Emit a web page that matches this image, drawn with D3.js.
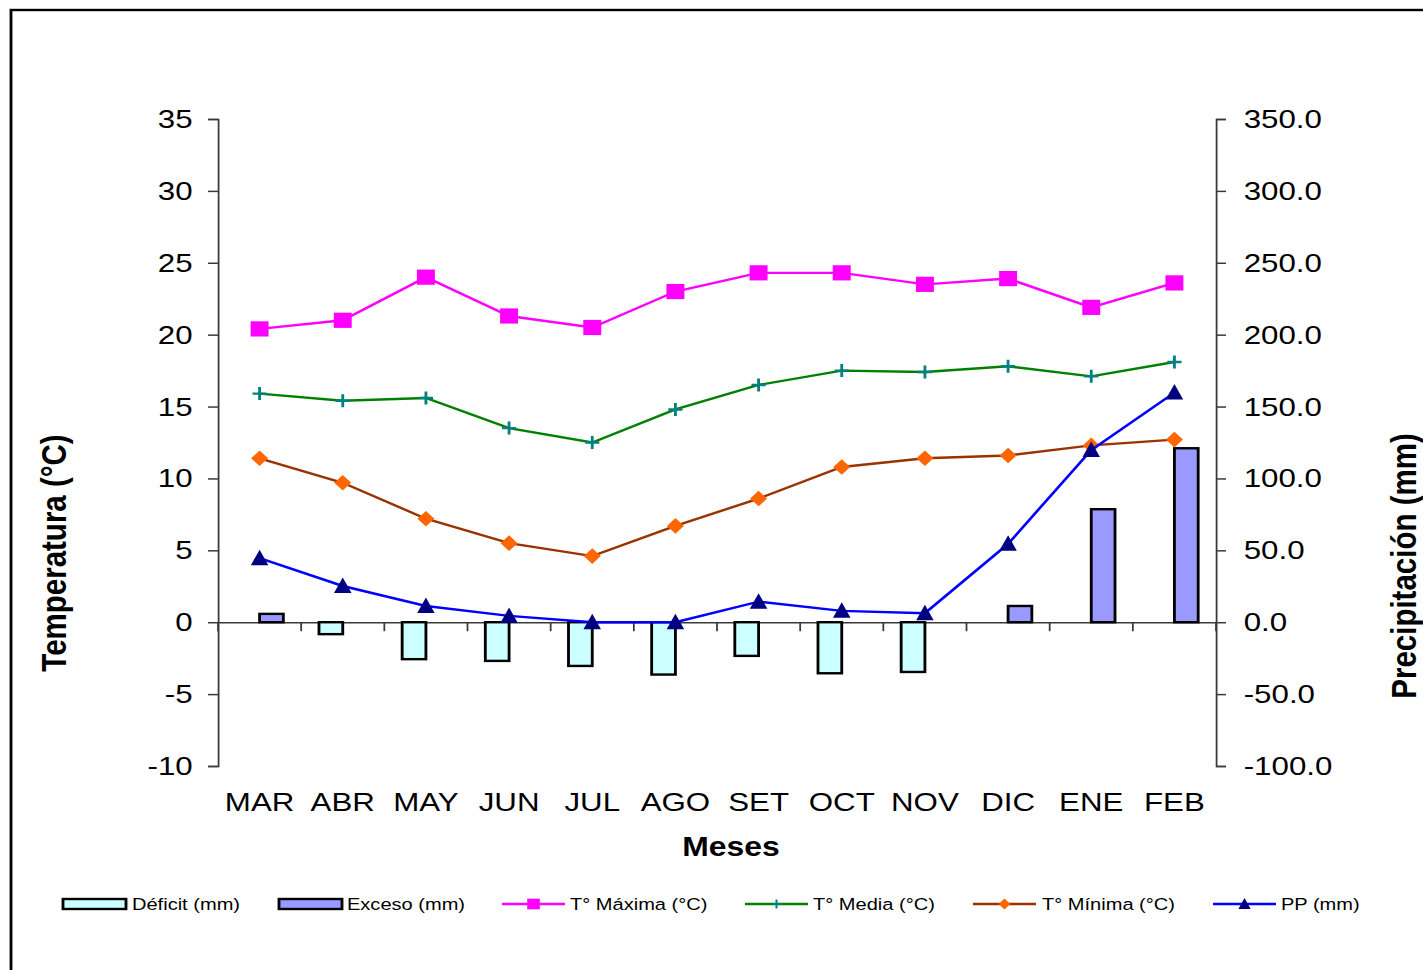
<!DOCTYPE html>
<html><head><meta charset="utf-8">
<script src="https://cdn.jsdelivr.net/npm/d3@7"></script>
<style>html,body{margin:0;padding:0;background:#fff;overflow:hidden}</style>
</head><body>
<script>
const months = ["MAR","ABR","MAY","JUN","JUL","AGO","SET","OCT","NOV","DIC","ENE","FEB"];
const tMax   = [20.4,21.0,24.0,21.3,20.5,23.0,24.3,24.3,23.5,23.9,21.9,23.6];
const tMedia = [15.9,15.4,15.6,13.5,12.5,14.8,16.5,17.5,17.4,17.8,17.1,18.1];
const tMin   = [11.4,9.7,7.2,5.5,4.6,6.7,8.6,10.8,11.4,11.6,12.3,12.7];
const pp     = [44.5,25.2,11.3,4.4,0,0,14.3,7.9,6.3,54.5,119.8,159.7];
const deficit= [0,-8.3,-25.7,-26.9,-30.4,-36.4,-23.4,-35.5,-34.6,0,0,0];
const exceso = [5.8,0,0,0,0,0,0,0,0,11.3,78.6,121.0];
const leftTicks  = [-10,-5,0,5,10,15,20,25,30,35];
const rightTicks = [-100,-50,0,50,100,150,200,250,300,350];

const SX = 1.18;               // horizontal stretch of the original picture
const W = 1423, H = 970, IW = W / SX;
const font = "'Liberation Sans', Arial, sans-serif";

const svg = d3.select("body").append("svg")
  .attr("width", W).attr("height", H)
  .attr("viewBox", `0 0 ${IW} ${H}`)
  .attr("preserveAspectRatio", "none")
  .style("font-family", font);

svg.append("rect").attr("x", 0).attr("y", 0).attr("width", IW).attr("height", H).attr("fill", "#fff");
svg.append("rect").attr("x", 11/SX).attr("y", 10).attr("width", IW + 50).attr("height", H + 50)
  .attr("fill", "none").attr("stroke", "#000").attr("stroke-width", 2.4);

const x0 = 218/SX, x1 = 1216/SX, yTop = 119, yBot = 766;
const x = d3.scaleBand().domain(months).range([x0, x1]).paddingInner(0).paddingOuter(0);
const yL = d3.scaleLinear().domain([-10, 35]).range([yBot, yTop]);
const yR = d3.scaleLinear().domain([-100, 350]).range([yBot, yTop]);
const cx = m => x(m) + x.bandwidth()/2;
const barW = x.bandwidth() / 3.5;

// Axes
const axisColor = "#3a3a3a";
const gL = svg.append("g").attr("transform", `translate(${x0},0)`)
  .call(d3.axisLeft(yL).tickValues(leftTicks).tickSize(8.5).tickPadding(13).tickFormat(d => String(d)));
const gR = svg.append("g").attr("transform", `translate(${x1},0)`)
  .call(d3.axisRight(yR).tickValues(rightTicks).tickSize(8.5).tickPadding(15).tickFormat(d => d.toFixed(1)));
[gL, gR].forEach(g => {
  g.select(".domain").attr("stroke", axisColor).attr("stroke-width", 1.5);
  g.selectAll(".tick line").attr("stroke", axisColor).attr("stroke-width", 1.5);
  g.selectAll(".tick text").attr("fill", "#000").style("font-size", "26.5px").style("font-family", font);
});

// zero line with category ticks
const gX = svg.append("g").attr("transform", `translate(0,${yL(0)})`)
  .call(d3.axisBottom(x).tickSize(0).tickFormat(""));
gX.select(".domain").attr("stroke", axisColor).attr("stroke-width", 1.5);
const bounds = months.map(m => x(m)).concat([x1]);
svg.append("g").selectAll("line").data(bounds).join("line")
  .attr("x1", d => d).attr("x2", d => d)
  .attr("y1", yL(0)).attr("y2", yL(0) + 9)
  .attr("stroke", axisColor).attr("stroke-width", 1.5);

// category labels
svg.append("g").selectAll("text").data(months).join("text")
  .attr("x", d => cx(d)).attr("y", 811)
  .attr("text-anchor", "middle").style("font-size", "26.5px").text(d => d);

// Bars
const bars = svg.append("g");
bars.selectAll("rect.def").data(months.map((m,i)=>({m, v: deficit[i]})).filter(d => d.v !== 0))
  .join("rect").attr("class","def")
  .attr("x", d => cx(d.m) - barW).attr("width", barW)
  .attr("y", d => yR(Math.max(0, d.v))).attr("height", d => Math.abs(yR(d.v) - yR(0)))
  .attr("fill", "#CCFFFF").attr("stroke", "#000").attr("stroke-width", 2.4);
bars.selectAll("rect.exc").data(months.map((m,i)=>({m, v: exceso[i]})).filter(d => d.v !== 0))
  .join("rect").attr("class","exc")
  .attr("x", d => cx(d.m)).attr("width", barW)
  .attr("y", d => yR(Math.max(0, d.v))).attr("height", d => Math.abs(yR(d.v) - yR(0)))
  .attr("fill", "#9999FF").attr("stroke", "#000").attr("stroke-width", 2.4);

// Marker helpers
function square(g, px, py, fill) {
  g.append("rect").attr("x", px - 7.6).attr("y", py - 7.6).attr("width", 15.2).attr("height", 15.2).attr("fill", fill);
}
function plus(g, px, py, col) {
  g.append("path").attr("d", `M${px-6},${py}H${px+6}M${px},${py-6.5}V${py+6.5}`)
    .attr("stroke", col).attr("stroke-width", 2.4).attr("fill", "none");
}
function diamond(g, px, py, fill) {
  g.append("path").attr("d", `M${px},${py-7.8}L${px+7.2},${py}L${px},${py+7.8}L${px-7.2},${py}Z`).attr("fill", fill);
}
function triangle(g, px, py, fill) {
  g.append("path").attr("d", `M${px},${py-8.5}L${px+7.4},${py+7}L${px-7.4},${py+7}Z`).attr("fill", fill);
}

function series(vals, scale, lineCol, markerFn, markerCol) {
  const g = svg.append("g");
  const line = d3.line().x((d,i) => cx(months[i])).y(d => scale(d));
  g.append("path").attr("d", line(vals)).attr("fill", "none").attr("stroke", lineCol).attr("stroke-width", 2.4);
  vals.forEach((v,i) => markerFn(g, cx(months[i]), scale(v), markerCol));
}
series(tMax, yL, "#FF00FF", square, "#FF00FF");
series(tMedia, yL, "#008000", plus, "#008080");
series(tMin, yL, "#993300", diamond, "#FF6600");
series(pp, yR, "#0000FF", triangle, "#000080");

// Axis titles
svg.append("text").attr("x", 731/SX).attr("y", 856).attr("text-anchor", "middle")
  .style("font-size", "27px").style("font-weight", "bold").text("Meses");
svg.append("text").attr("transform", `translate(${66/SX},553) rotate(-90)`).attr("text-anchor", "middle")
  .style("font-size", "29.5px").style("font-weight", "bold").text("Temperatura (°C)");
svg.append("text").attr("transform", `translate(${1416/SX},566) rotate(-90)`).attr("text-anchor", "middle")
  .style("font-size", "29.5px").style("font-weight", "bold").text("Precipitación (mm)");

// Legend
const legendItems = [
  {label: "Déficit (mm)", type: "bar", fill: "#CCFFFF", x: 63, tx: 132},
  {label: "Exceso (mm)", type: "bar", fill: "#9999FF", x: 279, tx: 347},
  {label: "T° Máxima (°C)", type: "line", col: "#FF00FF", mk: square, mc: "#FF00FF", x: 502, tx: 570},
  {label: "T° Media (°C)", type: "line", col: "#008000", mk: plus, mc: "#008080", x: 745, tx: 813},
  {label: "T° Mínima (°C)", type: "line", col: "#993300", mk: diamond, mc: "#FF6600", x: 973, tx: 1042},
  {label: "PP (mm)", type: "line", col: "#0000FF", mk: triangle, mc: "#000080", x: 1213, tx: 1281}
];
const lg = svg.append("g");
const ly = 904;
legendItems.forEach(it => {
  const lx = it.x / SX, lw = 63/SX;
  if (it.type === "bar") {
    lg.append("rect").attr("x", lx).attr("y", ly - 5).attr("width", lw).attr("height", 10)
      .attr("fill", it.fill).attr("stroke", "#000").attr("stroke-width", 2.4);
  } else {
    lg.append("line").attr("x1", lx).attr("x2", lx + lw).attr("y1", ly).attr("y2", ly)
      .attr("stroke", it.col).attr("stroke-width", 2.4);
    const gm = lg.append("g").attr("transform", `translate(${lx + lw/2},${ly}) scale(0.7)`);
    it.mk(gm, 0, 0, it.mc);
  }
  lg.append("text").attr("x", it.tx/SX).attr("y", ly + 6.5).style("font-size", "17px").text(it.label);
});
</script>
</body></html>
